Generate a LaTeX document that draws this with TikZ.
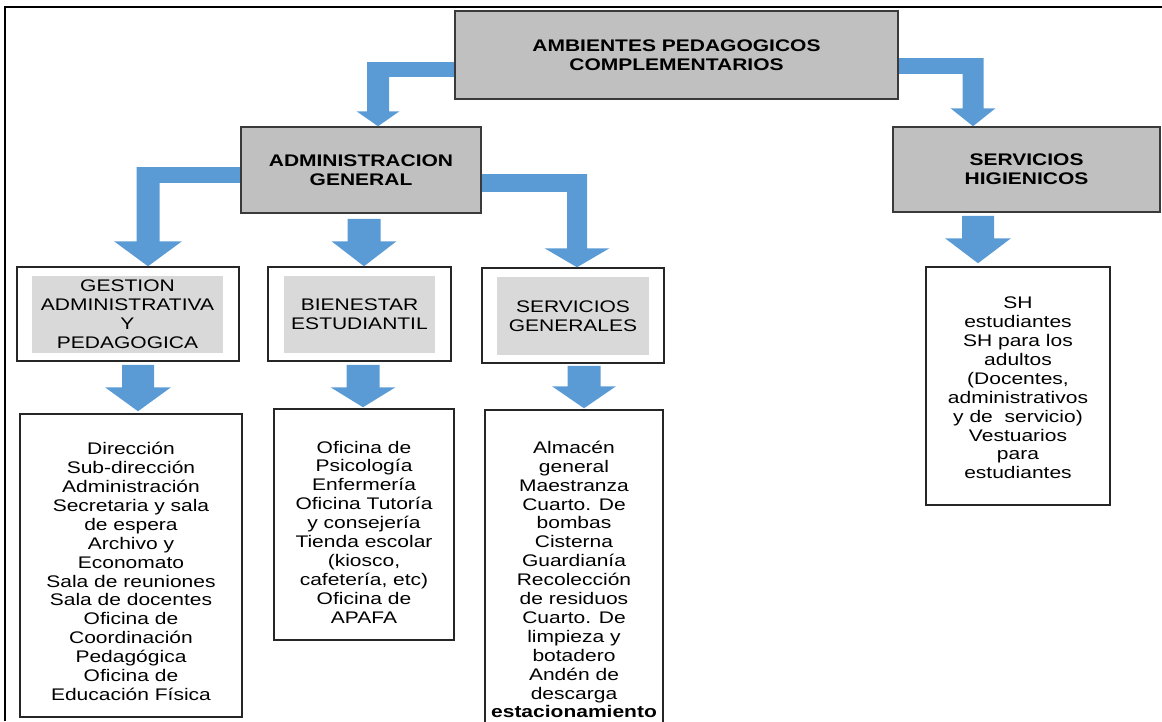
\documentclass[tikz,border=0pt]{standalone}
\usepackage{fontspec}
\setmainfont[FakeStretch=1.25]{Liberation Sans}
\usetikzlibrary{calc}
\definecolor{flowblue}{HTML}{5B9BD5}
\definecolor{boxgray}{HTML}{C0C0C0}
\definecolor{innergray}{HTML}{D9D9D9}
\definecolor{edgegray}{HTML}{3A3A3A}
\newcommand{\diafont}{\fontsize{16.8}{18.9}\selectfont}
% bent block arrow: #1 start, #2 tip, #3 half band (horiz.), #4 half band (vert.), #5 half head, #6 head length
\newcommand{\bentflow}[6]{%
\fill[flow] ($(#1)+(0,-#3)$) -- ($(#1)+(0,#3)$) -- ($(#2|-#1)+(0,#3)$) -- ($(#2|-#1)+(0,-#3)$) -- cycle;
\fill[flow] ($(#2|-#1)+(-#4,-#3)$) -- ($(#2)+(-#4,-#6)$) -- ($(#2)+(-#5,-#6)$) -- (#2) -- ($(#2)+(#5,-#6)$) -- ($(#2)+(#4,-#6)$) -- ($(#2|-#1)+(#4,-#3)$) -- cycle;}
% straight block arrow: #1 start, #2 tip, #3 half band, #4 half head, #5 head length
\newcommand{\downflow}[5]{%
\fill[flow] ($(#1)+(-#3,0)$) -- ($(#2)+(-#3,-#5)$) -- ($(#2)+(-#4,-#5)$) -- (#2) -- ($(#2)+(#4,-#5)$) -- ($(#2)+(#3,-#5)$) -- ($(#1)+(#3,0)$) -- cycle;}
\begin{document}
\begin{tikzpicture}[x=1pt,y=-1pt,
  headbox/.style={draw=edgegray,line width=1.5pt,fill=boxgray,inner sep=0pt,align=center,font=\diafont\bfseries},
  subbox/.style={draw=black!85,line width=1.5pt,fill=white,inner sep=0pt},
  subfill/.style={fill=innergray,inner sep=0pt,align=center,font=\diafont},
  listbox/.style={draw=black!85,line width=1.5pt,inner sep=0pt},
  listtext/.style={align=center,font=\diafont},
  flow/.style={fill=flowblue}]
\useasboundingbox (0,0) rectangle (1162,721);
\clip (0,0) rectangle (1162,721);
\draw[line width=2.5pt] (5,721) -- (5,7) -- (1162,7);
%---------------------------------------------------
\node[headbox,minimum width=443pt,minimum height=88pt] (top) at (676.5,55) {AMBIENTES PEDAGOGICOS\\COMPLEMENTARIOS};
\node[headbox,minimum width=240pt,minimum height=86pt] (admin) at (361,170) {ADMINISTRACION\\GENERAL};
\node[headbox,minimum width=267pt,minimum height=85pt] (sh) at (1026.5,169.5) {SERVICIOS\\HIGIENICOS};
%---------------------------------------------------
\node[subbox,minimum width=222pt,minimum height=94pt] (gestion) at (128,314) {};
\node[subfill,minimum width=191pt,minimum height=77pt] (gestionin) at (127.5,314.5) {GESTION\\ADMINISTRATIVA\\Y\\PEDAGOGICA};
\node[subbox,minimum width=183pt,minimum height=94pt] (bienestar) at (359.5,314) {};
\node[subfill,minimum width=151pt,minimum height=77pt] (bienestarin) at (359.5,314.5) {BIENESTAR\\ESTUDIANTIL};
\node[subbox,minimum width=182pt,minimum height=95pt] (servgen) at (573,315.5) {};
\node[subfill,minimum width=152pt,minimum height=78pt] (servgenin) at (573,316) {SERVICIOS\\GENERALES};
%---------------------------------------------------
\node[listbox,minimum width=222pt,minimum height=303pt] (glist) at (131,565.5) {};
\node[listtext] (gtext) at (131,571.5) {Dirección\\Sub-dirección\\Administración\\Secretaria y sala\\de espera\\Archivo y\\Economato\\Sala de reuniones\\Sala de docentes\\Oficina de\\Coordinación\\Pedagógica\\Oficina de\\Educación Física};
\node[listbox,minimum width=180pt,minimum height=231pt] (blist) at (364,524.5) {};
\node[listtext] (btext) at (364,532) {Oficina de\\Psicología\\Enfermería\\Oficina Tutoría\\y consejería\\Tienda escolar\\(kiosco,\\cafetería, etc)\\Oficina de\\APAFA};
\node[listbox,minimum width=178pt,minimum height=330pt] (slist) at (574,575) {};
\node[listtext] (stext) at (574,579.5) {Almacén\\general\\Maestranza\\Cuarto. De\\bombas\\Cisterna\\Guardianía\\Recolección\\de residuos\\Cuarto. De\\limpieza y\\botadero\\Andén de\\descarga\\\textbf{estacionamiento}};
\node[listbox,minimum width=184pt,minimum height=238pt] (shlist) at (1018,386) {};
\node[listtext] (shtext) at (1018,388) {SH\\estudiantes\\SH para los\\adultos\\(Docentes,\\administrativos\\y de~ servicio)\\Vestuarios\\para\\estudiantes};
%---------------------------------------------------
\coordinate (s1) at ($(top.west)+(0,14.5)$);
\coordinate (t1) at ($(admin.north)+(17,0)$);
\coordinate (s2) at ($(top.east)+(0,11)$);
\coordinate (t2) at ($(sh.north)+(-53.5,0)$);
\coordinate (s3) at ($(admin.west)+(0,5)$);
\coordinate (t3) at ($(gestion.north)+(20,0)$);
\coordinate (s5) at ($(admin.east)+(0,13)$);
\coordinate (t5) at ($(servgen.north)+(4,0)$);
\bentflow{s1}{t1}{7.5}{11}{21.5}{15}
\bentflow{s2}{t2}{8}{10.5}{22.5}{18}
\bentflow{s3}{t3}{8}{11.5}{34}{25}
\bentflow{s5}{t5}{9}{10}{32.5}{19}
%---------------------------------------------------
\coordinate (t4) at ($(bienestar.north)+(4.5,0)$);
\coordinate (s4) at ($(t4|-admin.south)+(0,5)$);
\coordinate (t6) at ($(shlist.north)+(-40,-3)$);
\coordinate (s6) at ($(t6|-sh.south)+(0,3)$);
\coordinate (t7) at ($(glist.north)+(7,-2)$);
\coordinate (s7) at ($(t7|-gestion.south)+(0,3)$);
\coordinate (t8) at ($(blist.north)+(-1,-1)$);
\coordinate (s8) at ($(t8|-bienestar.south)+(0,3)$);
\coordinate (t9) at ($(slist.north)+(10,-1)$);
\coordinate (s9) at ($(t9|-servgen.south)+(0,2)$);
\downflow{s4}{t4}{16.5}{32.5}{25}
\downflow{s6}{t6}{16}{33}{25}
\downflow{s7}{t7}{16}{33}{24}
\downflow{s8}{t8}{16.5}{32.5}{20}
\downflow{s9}{t9}{16.5}{32}{22}
\end{tikzpicture}
\end{document}
